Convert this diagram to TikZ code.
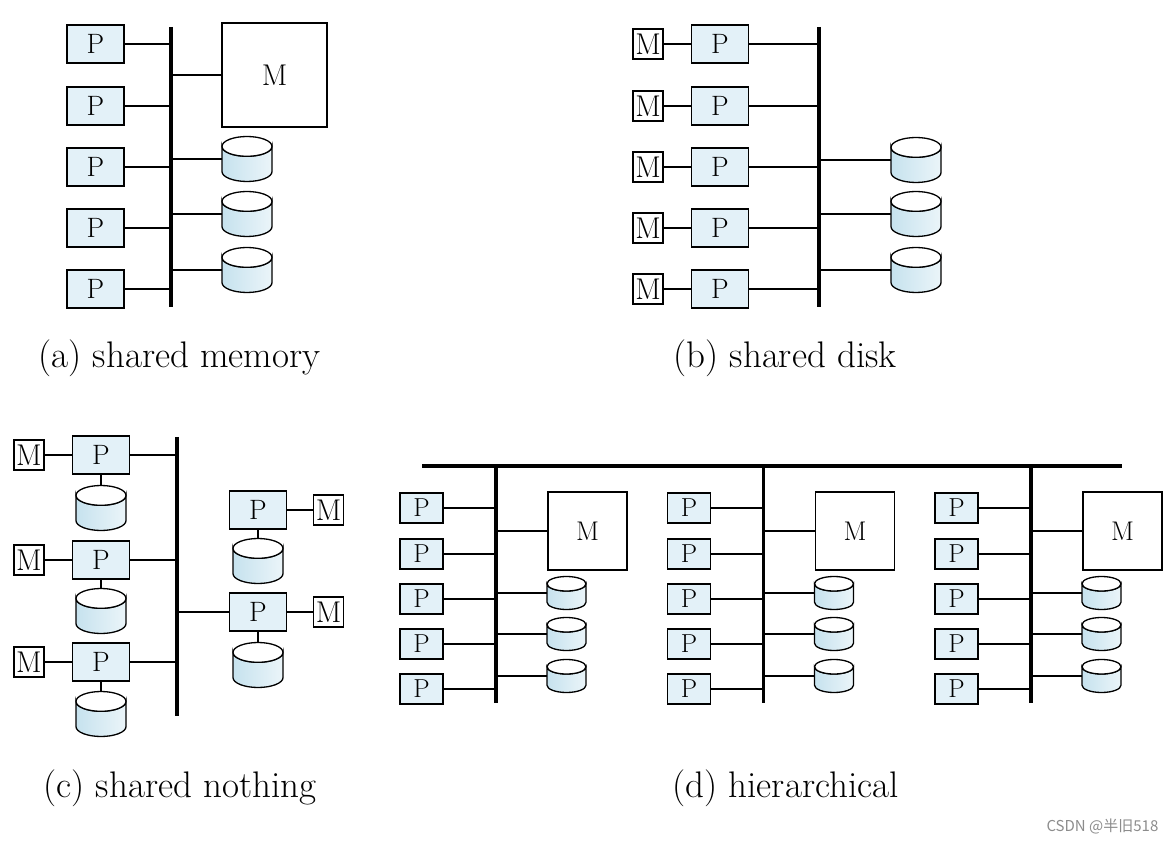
\documentclass[tikz,border=0pt]{standalone}
\usepackage{fontspec}
\newfontfamily\cjkfont{Noto Sans CJK SC}

\definecolor{procblue}{HTML}{E3F1F8}
\definecolor{diskblue}{HTML}{C6E2EE}

\tikzset{
  proc/.style={draw,line width=1.3pt,fill=procblue,inner sep=0,
    minimum width=57,minimum height=38,font=\fontsize{28}{28}\selectfont},
  sproc/.style={proc,minimum width=43,minimum height=30,font=\fontsize{26}{26}\selectfont},
  mem/.style={draw,line width=1.3pt,fill=white,inner sep=0,
    minimum width=105,minimum height=104,font=\fontsize{30}{30}\selectfont},
  smem/.style={mem,minimum width=79,minimum height=78,font=\fontsize{27}{27}\selectfont},
  mbox/.style={draw,line width=1.3pt,fill=white,inner sep=0,
    minimum width=30,minimum height=30,font=\fontsize{30}{30}\selectfont},
  bus/.style={line width=3.5pt},
  link/.style={line width=1.3pt},
  caption/.style={anchor=base west,font=\fontsize{37}{37}\selectfont},
  % disk: width, height; gives the coordinates -west and -north
  pics/disk/.style 2 args={code={
    \pgfmathsetmacro\rw{#1/2}
    \pgfmathsetmacro\rh{#2/2}
    \pgfmathsetmacro\ry{#2*0.22}
    \draw[link,left color=diskblue,right color=diskblue!35]
      (-\rw,-\rh+\ry) -- (-\rw,\rh-\ry)
      arc[start angle=180,end angle=0,x radius=\rw,y radius=\ry]
      -- (\rw,-\rh+\ry)
      arc[start angle=0,end angle=180,x radius=\rw,y radius=\ry] -- cycle;
    \draw[link,fill=white] (0,-\rh+\ry) ellipse[x radius=\rw,y radius=\ry];
    \coordinate (-west) at (-\rw,0);
    \coordinate (-north) at (0,-\rh);
  }}
}

\begin{document}
\begin{tikzpicture}[x=1pt,y=-1pt]
\useasboundingbox (0,0) rectangle (1171,842);

% (a) shared memory
\coordinate (busa) at (171,27);
\draw[bus] (busa) -- (171,307);
\foreach \i/\y in {1/44,2/106,3/167,4/228,5/289} {
  \node[proc] (pa\i) at (95.5,\y) {P};
  \draw[link] (pa\i) -- (pa\i -| busa);
}
\node[mem] (ma) at (274.5,75) {M};
\draw[link] (ma) -- (ma -| busa);
\foreach \i/\y in {1/159,2/214,3/270} {
  \pic (da\i) at (247,\y) {disk={50}{45}};
  \draw[link] (da\i-west) -- (da\i-west -| busa);
}
\node[caption] (capa) at (35,368) {(a) shared memory};

% (b) shared disk
\coordinate (busb) at (819,27);
\draw[bus] (busb) -- (819,307);
\foreach \i/\y in {1/44,2/106,3/167,4/228,5/289} {
  \node[mbox] (mb\i) at (648,\y) {M};
  \node[proc] (pb\i) at (720,\y) {P};
  \draw[link] (mb\i) -- (pb\i);
  \draw[link] (pb\i) -- (pb\i -| busb);
}
\foreach \i/\y in {1/160,2/214,3/270} {
  \pic (db\i) at (916,\y) {disk={50}{45}};
  \draw[link] (db\i-west) -- (db\i-west -| busb);
}
\node[caption] (capb) at (670,368) {(b) shared disk};

% (c) shared nothing
\coordinate (busc) at (177,437);
\draw[bus] (busc) -- (177,716);
\foreach \i/\y/\dy in {1/455/508,2/560/611,3/662/714} {
  \node[mbox] (mc\i) at (29,\y) {M};
  \node[proc] (pc\i) at (101,\y) {P};
  \pic (dc\i) at (101,\dy) {disk={50}{45}};
  \draw[link] (mc\i) -- (pc\i);
  \draw[link] (pc\i) -- (pc\i -| busc);
  \draw[link] (pc\i) -- (dc\i-north);
}
\foreach \i/\y/\dy in {4/510/561,5/612/665} {
  \node[proc] (pc\i) at (258,\y) {P};
  \node[mbox] (mc\i) at (328.5,\y) {M};
  \pic (dc\i) at (258,\dy) {disk={50}{45}};
  \draw[link] (pc\i) -- (mc\i);
  \draw[link] (pc\i) -- (dc\i-north);
}
\draw[link] (pc5) -- (pc5 -| busc);
\node[caption] (capc) at (40,797) {(c) shared nothing};

% (d) hierarchical
\coordinate (topl) at (422,466);
\coordinate (topr) at (1122,466);
\draw[bus] (topl) -- (topr);
\foreach \k/\dx in {0/0,1/267.5,2/535} {
  \coordinate (busd\k) at ({496+\dx},466);
  \draw[bus] (busd\k) -- ++(0,237);
  \foreach \i/\y in {1/508,2/554,3/599,4/644,5/689} {
    \node[sproc] (pd\k\i) at ({421.5+\dx},\y) {P};
    \draw[link] (pd\k\i) -- (pd\k\i -| busd\k);
  }
  \node[smem] (md\k) at ({587.5+\dx},531) {M};
  \draw[link] (md\k) -- (md\k -| busd\k);
  \foreach \i/\y in {1/593,2/634,3/676} {
    \pic (dd\k\i) at ({566.5+\dx},\y) {disk={39}{33}};
    \draw[link] (dd\k\i-west) -- (dd\k\i-west -| busd\k);
  }
}
\node[caption] (capd) at (669,797) {(d) hierarchical};

\node[anchor=west,text=black!45,font=\cjkfont\fontsize{15}{15}\selectfont] (mark) at (1043,826) {CSDN @半旧518};
\end{tikzpicture}
\end{document}
